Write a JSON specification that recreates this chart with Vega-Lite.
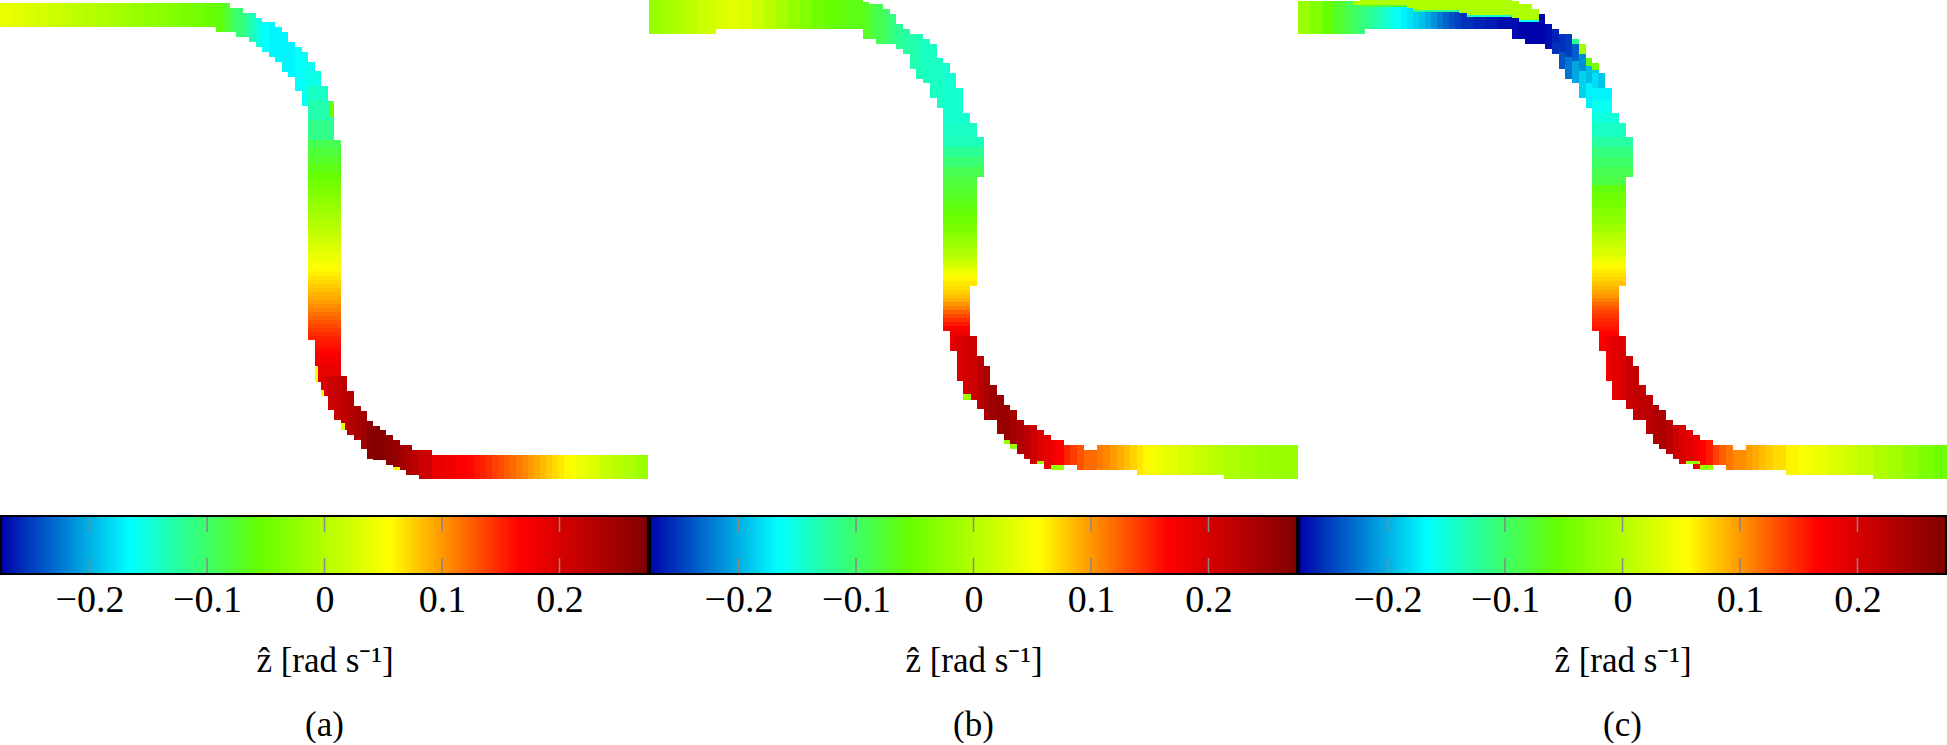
{"$schema":"https://vega.github.io/schema/vega-lite/v6.json","padding":0,"background":"white","spacing":0,"config":{"view":{"stroke":null},"concat":{"spacing":0}},
"datasets":{
"a":[
{"x0":0,"x1":12,"y0":3,"y1":27,"z":0.04},{"x0":12,"x1":24,"y0":3,"y1":27,"z":0.035},{"x0":24,"x1":36,"y0":3,"y1":27,"z":0.03},{"x0":36,"x1":48,"y0":3,"y1":27,"z":0.024},{"x0":48,"x1":60,"y0":3,"y1":27,"z":0.019},{"x0":60,"x1":72,"y0":3,"y1":27,"z":0.014},{"x0":72,"x1":84,"y0":3,"y1":27,"z":0.008},{"x0":84,"x1":96,"y0":3,"y1":27,"z":0.003},{"x0":96,"x1":108,"y0":3,"y1":27,"z":-0.003},{"x0":108,"x1":120,"y0":3,"y1":27,"z":-0.008},{"x0":120,"x1":132,"y0":3,"y1":27,"z":-0.013},{"x0":132,"x1":144,"y0":3,"y1":27,"z":-0.019},{"x0":144,"x1":156,"y0":3,"y1":27,"z":-0.024},{"x0":156,"x1":168,"y0":3,"y1":27,"z":-0.03},{"x0":168,"x1":180,"y0":3,"y1":27,"z":-0.035},{"x0":180,"x1":192,"y0":3,"y1":27,"z":-0.04},{"x0":192,"x1":204,"y0":3,"y1":27,"z":-0.046},{"x0":204,"x1":216,"y0":3,"y1":27,"z":-0.052},
{"x0":216,"x1":223,"y0":3,"y1":32,"z":-0.06},{"x0":223,"x1":230,"y0":3,"y1":32,"z":-0.075},{"x0":230,"x1":236,"y0":8,"y1":32,"z":-0.09},{"x0":236,"x1":243,"y0":8,"y1":37,"z":-0.105},{"x0":243,"x1":249,"y0":13,"y1":37,"z":-0.12},{"x0":249,"x1":256,"y0":13,"y1":42,"z":-0.135},{"x0":256,"x1":262,"y0":18,"y1":47,"z":-0.15},{"x0":262,"x1":269,"y0":22,"y1":52,"z":-0.165},{"x0":269,"x1":275,"y0":22,"y1":57,"z":-0.17},{"x0":275,"x1":282,"y0":27,"y1":62,"z":-0.17},{"x0":282,"x1":288,"y0":32,"y1":72,"z":-0.17},{"x0":288,"x1":295,"y0":42,"y1":77,"z":-0.17},{"x0":295,"x1":302,"y0":47,"y1":91,"z":-0.165},{"x0":302,"x1":308,"y0":52,"y1":106,"z":-0.16},
{"x0":308,"x1":315,"y0":62,"y1":71,"z":-0.16},{"x0":308,"x1":321,"y0":71,"y1":86,"z":-0.155},{"x0":308,"x1":328,"y0":86,"y1":101,"z":-0.14},{"x0":308,"x1":334,"y0":101,"y1":120,"z":-0.13},{"x0":308,"x1":334,"y0":120,"y1":140,"z":-0.115},
{"x0":308,"x1":341,"y0":140,"y1":148,"z":-0.09},{"x0":308,"x1":341,"y0":148,"y1":156,"z":-0.081},{"x0":308,"x1":341,"y0":156,"y1":164,"z":-0.073},{"x0":308,"x1":341,"y0":164,"y1":172,"z":-0.064},{"x0":308,"x1":341,"y0":172,"y1":180,"z":-0.055},{"x0":308,"x1":341,"y0":180,"y1":188,"z":-0.046},{"x0":308,"x1":341,"y0":188,"y1":196,"z":-0.037},{"x0":308,"x1":341,"y0":196,"y1":204,"z":-0.027},{"x0":308,"x1":341,"y0":204,"y1":212,"z":-0.018},{"x0":308,"x1":341,"y0":212,"y1":220,"z":-0.009},{"x0":308,"x1":341,"y0":220,"y1":228,"z":0},{"x0":308,"x1":341,"y0":228,"y1":236,"z":0.01},{"x0":308,"x1":341,"y0":236,"y1":244,"z":0.02},{"x0":308,"x1":341,"y0":244,"y1":252,"z":0.03},{"x0":308,"x1":341,"y0":252,"y1":260,"z":0.04},{"x0":308,"x1":341,"y0":260,"y1":264,"z":0.048},{"x0":308,"x1":341,"y0":264,"y1":268,"z":0.052},{"x0":308,"x1":341,"y0":268,"y1":272,"z":0.057},{"x0":308,"x1":341,"y0":272,"y1":276,"z":0.062},{"x0":308,"x1":341,"y0":276,"y1":280,"z":0.067},{"x0":308,"x1":341,"y0":280,"y1":284,"z":0.072},{"x0":308,"x1":341,"y0":284,"y1":288,"z":0.077},{"x0":308,"x1":341,"y0":288,"y1":292,"z":0.082},{"x0":308,"x1":341,"y0":292,"y1":296,"z":0.087},{"x0":308,"x1":341,"y0":296,"y1":300,"z":0.092},{"x0":308,"x1":341,"y0":300,"y1":304,"z":0.098},{"x0":308,"x1":341,"y0":304,"y1":308,"z":0.104},{"x0":308,"x1":341,"y0":308,"y1":312,"z":0.11},{"x0":308,"x1":341,"y0":312,"y1":316,"z":0.117},{"x0":308,"x1":341,"y0":316,"y1":320,"z":0.123},{"x0":308,"x1":341,"y0":320,"y1":324,"z":0.129},{"x0":308,"x1":341,"y0":324,"y1":328,"z":0.135},{"x0":308,"x1":341,"y0":328,"y1":332,"z":0.14},{"x0":308,"x1":341,"y0":332,"y1":336,"z":0.146},{"x0":308,"x1":341,"y0":336,"y1":340,"z":0.151},
{"x0":315,"x1":341,"y0":340,"y1":344,"z":0.155},{"x0":315,"x1":341,"y0":344,"y1":348,"z":0.159},{"x0":315,"x1":341,"y0":348,"y1":352,"z":0.163},{"x0":315,"x1":341,"y0":352,"y1":356,"z":0.167},{"x0":315,"x1":341,"y0":356,"y1":364,"z":0.175},{"x0":315,"x1":341,"y0":364,"y1":376,"z":0.185},
{"x0":315,"x1":321,"y0":376,"y1":382,"z":0.195},{"x0":321,"x1":328,"y0":376,"y1":396,"z":0.2},{"x0":328,"x1":334,"y0":376,"y1":410,"z":0.21},{"x0":334,"x1":341,"y0":376,"y1":420,"z":0.215},{"x0":341,"x1":347,"y0":376,"y1":430,"z":0.22},{"x0":347,"x1":354,"y0":391,"y1":435,"z":0.23},{"x0":354,"x1":361,"y0":406,"y1":440,"z":0.24},{"x0":361,"x1":367,"y0":411,"y1":449,"z":0.25},{"x0":367,"x1":373,"y0":421,"y1":459,"z":0.265},{"x0":373,"x1":380,"y0":426,"y1":460,"z":0.27},{"x0":380,"x1":386,"y0":430,"y1":460,"z":0.27},{"x0":386,"x1":393,"y0":435,"y1":465,"z":0.265},{"x0":393,"x1":400,"y0":440,"y1":470,"z":0.255},{"x0":400,"x1":406,"y0":445,"y1":470,"z":0.245},{"x0":406,"x1":412,"y0":445,"y1":475,"z":0.235},{"x0":412,"x1":419,"y0":450,"y1":475,"z":0.225},{"x0":419,"x1":432,"y0":450,"y1":479,"z":0.21},
{"x0":432,"x1":444,"y0":455,"y1":479,"z":0.185},{"x0":444,"x1":456,"y0":455,"y1":479,"z":0.178},{"x0":456,"x1":468,"y0":455,"y1":479,"z":0.17},{"x0":468,"x1":474,"y0":455,"y1":479,"z":0.163},{"x0":474,"x1":480,"y0":455,"y1":479,"z":0.157},{"x0":480,"x1":486,"y0":455,"y1":479,"z":0.151},{"x0":486,"x1":492,"y0":455,"y1":479,"z":0.145},{"x0":492,"x1":498,"y0":455,"y1":479,"z":0.139},{"x0":498,"x1":504,"y0":455,"y1":479,"z":0.133},{"x0":504,"x1":510,"y0":455,"y1":479,"z":0.126},{"x0":510,"x1":516,"y0":455,"y1":479,"z":0.12},{"x0":516,"x1":522,"y0":455,"y1":479,"z":0.113},{"x0":522,"x1":528,"y0":455,"y1":479,"z":0.107},{"x0":528,"x1":534,"y0":455,"y1":479,"z":0.099},{"x0":534,"x1":540,"y0":455,"y1":479,"z":0.092},{"x0":540,"x1":546,"y0":455,"y1":479,"z":0.085},{"x0":546,"x1":552,"y0":455,"y1":479,"z":0.078},{"x0":552,"x1":558,"y0":455,"y1":479,"z":0.071},{"x0":558,"x1":564,"y0":455,"y1":479,"z":0.065},{"x0":564,"x1":570,"y0":455,"y1":479,"z":0.058},{"x0":570,"x1":576,"y0":455,"y1":479,"z":0.052},{"x0":576,"x1":582,"y0":455,"y1":479,"z":0.044},{"x0":582,"x1":588,"y0":455,"y1":479,"z":0.038},{"x0":588,"x1":600,"y0":455,"y1":479,"z":0.03},{"x0":600,"x1":612,"y0":455,"y1":479,"z":0.015},{"x0":612,"x1":624,"y0":455,"y1":479,"z":0.005},{"x0":624,"x1":636,"y0":455,"y1":479,"z":-0.005},{"x0":636,"x1":648,"y0":455,"y1":479,"z":-0.017},
{"x0":330,"x1":334,"y0":102,"y1":117,"z":-0.05},{"x0":315,"x1":318,"y0":366,"y1":382,"z":0.05},{"x0":321,"x1":324,"y0":390,"y1":396,"z":0.05},{"x0":341,"x1":345,"y0":423,"y1":430,"z":0.04},{"x0":393,"x1":400,"y0":467,"y1":470,"z":0.05}
],
"b":[
{"x0":0,"x1":12,"y0":0,"y1":34,"z":-0.02},{"x0":12,"x1":24,"y0":0,"y1":34,"z":-0.012},{"x0":24,"x1":36,"y0":0,"y1":34,"z":-0.003},{"x0":36,"x1":48,"y0":0,"y1":34,"z":0.008},{"x0":48,"x1":60,"y0":0,"y1":34,"z":0.018},{"x0":60,"x1":67,"y0":0,"y1":34,"z":0.024},{"x0":67,"x1":79,"y0":0,"y1":29,"z":0.03},{"x0":79,"x1":91,"y0":0,"y1":29,"z":0.035},{"x0":91,"x1":103,"y0":0,"y1":29,"z":0.03},{"x0":103,"x1":115,"y0":0,"y1":29,"z":0.018},{"x0":115,"x1":127,"y0":0,"y1":29,"z":0.005},{"x0":127,"x1":139,"y0":0,"y1":29,"z":-0.008},{"x0":139,"x1":151,"y0":0,"y1":29,"z":-0.022},{"x0":151,"x1":163,"y0":0,"y1":29,"z":-0.035},{"x0":163,"x1":175,"y0":0,"y1":29,"z":-0.047},{"x0":175,"x1":187,"y0":0,"y1":29,"z":-0.055},{"x0":187,"x1":199,"y0":0,"y1":29,"z":-0.06},{"x0":199,"x1":214,"y0":0,"y1":29,"z":-0.065},
{"x0":214,"x1":220,"y0":2,"y1":39,"z":-0.07},{"x0":220,"x1":227,"y0":4,"y1":39,"z":-0.08},{"x0":227,"x1":234,"y0":4,"y1":44,"z":-0.09},{"x0":234,"x1":241,"y0":9,"y1":44,"z":-0.1},{"x0":241,"x1":247,"y0":14,"y1":44,"z":-0.11},{"x0":247,"x1":254,"y0":24,"y1":49,"z":-0.12},{"x0":254,"x1":261,"y0":29,"y1":54,"z":-0.125},{"x0":261,"x1":267,"y0":34,"y1":69,"z":-0.13},{"x0":267,"x1":274,"y0":34,"y1":79,"z":-0.135},{"x0":274,"x1":281,"y0":39,"y1":83,"z":-0.14},{"x0":281,"x1":288,"y0":44,"y1":98,"z":-0.14},{"x0":288,"x1":294,"y0":58,"y1":108,"z":-0.14},
{"x0":294,"x1":301,"y0":63,"y1":73,"z":-0.145},{"x0":294,"x1":307,"y0":73,"y1":88,"z":-0.145},{"x0":294,"x1":314,"y0":88,"y1":113,"z":-0.145},{"x0":294,"x1":321,"y0":113,"y1":123,"z":-0.145},{"x0":294,"x1":328,"y0":123,"y1":137,"z":-0.14},
{"x0":294,"x1":335,"y0":137,"y1":147,"z":-0.135},{"x0":294,"x1":335,"y0":147,"y1":157,"z":-0.12},{"x0":294,"x1":335,"y0":157,"y1":167,"z":-0.105},{"x0":294,"x1":335,"y0":167,"y1":177,"z":-0.09},
{"x0":294,"x1":328,"y0":177,"y1":185,"z":-0.082},{"x0":294,"x1":328,"y0":185,"y1":193,"z":-0.076},{"x0":294,"x1":328,"y0":193,"y1":201,"z":-0.07},{"x0":294,"x1":328,"y0":201,"y1":209,"z":-0.064},{"x0":294,"x1":328,"y0":209,"y1":217,"z":-0.058},{"x0":294,"x1":328,"y0":217,"y1":225,"z":-0.05},{"x0":294,"x1":328,"y0":225,"y1":233,"z":-0.04},{"x0":294,"x1":328,"y0":233,"y1":241,"z":-0.028},{"x0":294,"x1":328,"y0":241,"y1":249,"z":-0.015},{"x0":294,"x1":328,"y0":249,"y1":257,"z":-0.003},{"x0":294,"x1":328,"y0":257,"y1":261,"z":0.01},{"x0":294,"x1":328,"y0":261,"y1":265,"z":0.02},{"x0":294,"x1":328,"y0":265,"y1":269,"z":0.03},{"x0":294,"x1":328,"y0":269,"y1":273,"z":0.04},{"x0":294,"x1":328,"y0":273,"y1":277,"z":0.05},{"x0":294,"x1":328,"y0":277,"y1":281,"z":0.058},{"x0":294,"x1":328,"y0":281,"y1":286,"z":0.065},
{"x0":294,"x1":321,"y0":286,"y1":290,"z":0.07},{"x0":294,"x1":321,"y0":290,"y1":294,"z":0.076},{"x0":294,"x1":321,"y0":294,"y1":298,"z":0.082},{"x0":294,"x1":321,"y0":298,"y1":302,"z":0.089},{"x0":294,"x1":321,"y0":302,"y1":306,"z":0.1},{"x0":294,"x1":321,"y0":306,"y1":310,"z":0.11},{"x0":294,"x1":321,"y0":310,"y1":314,"z":0.124},{"x0":294,"x1":321,"y0":314,"y1":318,"z":0.136},{"x0":294,"x1":321,"y0":318,"y1":322,"z":0.146},{"x0":294,"x1":321,"y0":322,"y1":326,"z":0.156},{"x0":294,"x1":321,"y0":326,"y1":331,"z":0.17},{"x0":301,"x1":321,"y0":331,"y1":336,"z":0.18},
{"x0":301,"x1":308,"y0":336,"y1":351,"z":0.19},{"x0":308,"x1":314,"y0":336,"y1":381,"z":0.2},{"x0":314,"x1":321,"y0":336,"y1":400,"z":0.205},{"x0":321,"x1":328,"y0":336,"y1":400,"z":0.21},{"x0":328,"x1":335,"y0":356,"y1":409,"z":0.225},{"x0":335,"x1":341,"y0":366,"y1":420,"z":0.24},{"x0":341,"x1":348,"y0":385,"y1":420,"z":0.25},{"x0":348,"x1":355,"y0":395,"y1":434,"z":0.255},{"x0":355,"x1":361,"y0":405,"y1":444,"z":0.255},{"x0":361,"x1":368,"y0":410,"y1":449,"z":0.245},{"x0":368,"x1":375,"y0":420,"y1":454,"z":0.235},{"x0":375,"x1":381,"y0":425,"y1":459,"z":0.225},{"x0":381,"x1":388,"y0":425,"y1":464,"z":0.21},{"x0":388,"x1":395,"y0":430,"y1":464,"z":0.195},{"x0":395,"x1":402,"y0":435,"y1":469,"z":0.185},{"x0":402,"x1":408,"y0":440,"y1":469,"z":0.175},{"x0":408,"x1":415,"y0":440,"y1":465,"z":0.165},{"x0":415,"x1":421,"y0":445,"y1":465,"z":0.152},{"x0":421,"x1":428,"y0":445,"y1":465,"z":0.14},{"x0":428,"x1":435,"y0":445,"y1":470,"z":0.13},{"x0":435,"x1":448,"y0":450,"y1":470,"z":0.12},
{"x0":448,"x1":454,"y0":445,"y1":470,"z":0.113},{"x0":454,"x1":461,"y0":445,"y1":470,"z":0.107},{"x0":461,"x1":468,"y0":445,"y1":470,"z":0.099},{"x0":468,"x1":475,"y0":445,"y1":470,"z":0.091},{"x0":475,"x1":481,"y0":445,"y1":470,"z":0.083},{"x0":481,"x1":488,"y0":445,"y1":470,"z":0.075},{"x0":488,"x1":494,"y0":445,"y1":475,"z":0.066},{"x0":494,"x1":501,"y0":445,"y1":475,"z":0.058},{"x0":501,"x1":508,"y0":445,"y1":475,"z":0.05},{"x0":508,"x1":515,"y0":445,"y1":475,"z":0.043},{"x0":515,"x1":530,"y0":445,"y1":475,"z":0.035},{"x0":530,"x1":545,"y0":445,"y1":475,"z":0.025},{"x0":545,"x1":560,"y0":445,"y1":475,"z":0.015},{"x0":560,"x1":575,"y0":445,"y1":475,"z":0.005},{"x0":575,"x1":590,"y0":445,"y1":479,"z":-0.005},{"x0":590,"x1":605,"y0":445,"y1":479,"z":-0.01},{"x0":605,"x1":620,"y0":445,"y1":479,"z":-0.015},{"x0":620,"x1":635,"y0":445,"y1":479,"z":-0.018},{"x0":635,"x1":649,"y0":445,"y1":479,"z":-0.02},
{"x0":314,"x1":322,"y0":394,"y1":400,"z":-0.02},{"x0":355,"x1":361,"y0":440,"y1":444,"z":-0.02},{"x0":361,"x1":368,"y0":444,"y1":449,"z":-0.02},{"x0":388,"x1":395,"y0":461,"y1":464,"z":-0.02},{"x0":402,"x1":415,"y0":465,"y1":470,"z":-0.02}
],
"c":[
{"x0":0,"x1":12,"y0":1,"y1":34,"z":-0.02},{"x0":12,"x1":24,"y0":1,"y1":34,"z":-0.035},{"x0":24,"x1":36,"y0":1,"y1":34,"z":-0.055},{"x0":36,"x1":48,"y0":1,"y1":34,"z":-0.075},{"x0":48,"x1":55,"y0":1,"y1":34,"z":-0.09},{"x0":55,"x1":61,"y0":1,"y1":34,"z":-0.1},{"x0":61,"x1":67,"y0":1,"y1":34,"z":-0.108},{"x0":67,"x1":73,"y0":1,"y1":29,"z":-0.116},{"x0":73,"x1":79,"y0":1,"y1":29,"z":-0.125},{"x0":79,"x1":85,"y0":1,"y1":29,"z":-0.135},{"x0":85,"x1":91,"y0":1,"y1":29,"z":-0.145},{"x0":91,"x1":97,"y0":1,"y1":29,"z":-0.155},{"x0":97,"x1":103,"y0":1,"y1":29,"z":-0.163},{"x0":103,"x1":109,"y0":1,"y1":29,"z":-0.171},{"x0":109,"x1":115,"y0":1,"y1":29,"z":-0.178},{"x0":115,"x1":121,"y0":1,"y1":29,"z":-0.186},{"x0":121,"x1":127,"y0":1,"y1":29,"z":-0.193},{"x0":127,"x1":133,"y0":1,"y1":29,"z":-0.202},{"x0":133,"x1":139,"y0":1,"y1":29,"z":-0.213},{"x0":139,"x1":145,"y0":1,"y1":29,"z":-0.224},{"x0":145,"x1":151,"y0":1,"y1":29,"z":-0.234},{"x0":151,"x1":157,"y0":1,"y1":29,"z":-0.242},{"x0":157,"x1":163,"y0":1,"y1":29,"z":-0.248},{"x0":163,"x1":175,"y0":1,"y1":29,"z":-0.255},{"x0":175,"x1":187,"y0":1,"y1":29,"z":-0.26},{"x0":187,"x1":199,"y0":1,"y1":29,"z":-0.265},{"x0":199,"x1":214,"y0":1,"y1":29,"z":-0.27},
{"x0":214,"x1":220,"y0":1,"y1":39,"z":-0.27},{"x0":220,"x1":227,"y0":4,"y1":39,"z":-0.275},{"x0":227,"x1":234,"y0":4,"y1":44,"z":-0.275},{"x0":234,"x1":241,"y0":9,"y1":44,"z":-0.275},{"x0":241,"x1":247,"y0":14,"y1":44,"z":-0.275},{"x0":247,"x1":254,"y0":24,"y1":49,"z":-0.27},
{"x0":254,"x1":261,"y0":29,"y1":42,"z":-0.262},{"x0":254,"x1":261,"y0":42,"y1":54,"z":-0.255},{"x0":261,"x1":267,"y0":34,"y1":52,"z":-0.255},{"x0":261,"x1":267,"y0":52,"y1":69,"z":-0.24},{"x0":267,"x1":274,"y0":34,"y1":57,"z":-0.25},{"x0":267,"x1":274,"y0":57,"y1":79,"z":-0.225},{"x0":274,"x1":281,"y0":39,"y1":61,"z":-0.235},{"x0":274,"x1":281,"y0":61,"y1":83,"z":-0.205},{"x0":281,"x1":288,"y0":44,"y1":71,"z":-0.215},{"x0":281,"x1":288,"y0":71,"y1":98,"z":-0.185},{"x0":288,"x1":294,"y0":58,"y1":83,"z":-0.195},{"x0":288,"x1":294,"y0":83,"y1":108,"z":-0.172},
{"x0":294,"x1":301,"y0":63,"y1":73,"z":-0.19},{"x0":294,"x1":300,"y0":73,"y1":88,"z":-0.18},{"x0":300,"x1":307,"y0":73,"y1":88,"z":-0.19},{"x0":294,"x1":314,"y0":88,"y1":100,"z":-0.17},{"x0":294,"x1":314,"y0":100,"y1":113,"z":-0.16},{"x0":294,"x1":321,"y0":113,"y1":123,"z":-0.15},{"x0":294,"x1":328,"y0":123,"y1":137,"z":-0.14},
{"x0":294,"x1":335,"y0":137,"y1":147,"z":-0.125},{"x0":294,"x1":335,"y0":147,"y1":157,"z":-0.11},{"x0":294,"x1":335,"y0":157,"y1":167,"z":-0.1},{"x0":294,"x1":335,"y0":167,"y1":177,"z":-0.09},
{"x0":294,"x1":328,"y0":177,"y1":185,"z":-0.085},{"x0":294,"x1":328,"y0":185,"y1":193,"z":-0.06},{"x0":294,"x1":328,"y0":193,"y1":201,"z":-0.05},{"x0":294,"x1":328,"y0":201,"y1":209,"z":-0.042},{"x0":294,"x1":328,"y0":209,"y1":217,"z":-0.034},{"x0":294,"x1":328,"y0":217,"y1":225,"z":-0.024},{"x0":294,"x1":328,"y0":225,"y1":233,"z":-0.012},{"x0":294,"x1":328,"y0":233,"y1":241,"z":0.002},{"x0":294,"x1":328,"y0":241,"y1":249,"z":0.016},{"x0":294,"x1":328,"y0":249,"y1":257,"z":0.03},{"x0":294,"x1":328,"y0":257,"y1":261,"z":0.042},{"x0":294,"x1":328,"y0":261,"y1":265,"z":0.05},{"x0":294,"x1":328,"y0":265,"y1":269,"z":0.057},{"x0":294,"x1":328,"y0":269,"y1":273,"z":0.063},{"x0":294,"x1":328,"y0":273,"y1":277,"z":0.068},{"x0":294,"x1":328,"y0":277,"y1":281,"z":0.073},{"x0":294,"x1":328,"y0":281,"y1":286,"z":0.08},
{"x0":294,"x1":321,"y0":286,"y1":290,"z":0.087},{"x0":294,"x1":321,"y0":290,"y1":294,"z":0.094},{"x0":294,"x1":321,"y0":294,"y1":298,"z":0.101},{"x0":294,"x1":321,"y0":298,"y1":302,"z":0.11},{"x0":294,"x1":321,"y0":302,"y1":306,"z":0.12},{"x0":294,"x1":321,"y0":306,"y1":310,"z":0.129},{"x0":294,"x1":321,"y0":310,"y1":314,"z":0.137},{"x0":294,"x1":321,"y0":314,"y1":318,"z":0.143},{"x0":294,"x1":321,"y0":318,"y1":322,"z":0.148},{"x0":294,"x1":321,"y0":322,"y1":326,"z":0.153},{"x0":294,"x1":321,"y0":326,"y1":331,"z":0.158},{"x0":301,"x1":321,"y0":331,"y1":336,"z":0.165},
{"x0":301,"x1":308,"y0":336,"y1":351,"z":0.172},{"x0":308,"x1":314,"y0":336,"y1":381,"z":0.18},{"x0":314,"x1":321,"y0":336,"y1":400,"z":0.19},{"x0":321,"x1":328,"y0":336,"y1":400,"z":0.2},{"x0":328,"x1":335,"y0":356,"y1":409,"z":0.21},{"x0":335,"x1":341,"y0":366,"y1":420,"z":0.22},{"x0":341,"x1":348,"y0":385,"y1":420,"z":0.22},{"x0":348,"x1":355,"y0":395,"y1":434,"z":0.225},{"x0":355,"x1":361,"y0":405,"y1":444,"z":0.235},{"x0":361,"x1":368,"y0":410,"y1":449,"z":0.235},{"x0":368,"x1":375,"y0":420,"y1":454,"z":0.225},{"x0":375,"x1":381,"y0":425,"y1":459,"z":0.21},{"x0":381,"x1":388,"y0":425,"y1":464,"z":0.2},{"x0":388,"x1":395,"y0":430,"y1":464,"z":0.19},{"x0":395,"x1":402,"y0":435,"y1":469,"z":0.18},{"x0":402,"x1":408,"y0":440,"y1":469,"z":0.165},{"x0":408,"x1":415,"y0":440,"y1":465,"z":0.155},{"x0":415,"x1":421,"y0":445,"y1":465,"z":0.138},{"x0":421,"x1":428,"y0":445,"y1":465,"z":0.125},{"x0":428,"x1":435,"y0":445,"y1":470,"z":0.115},{"x0":435,"x1":448,"y0":450,"y1":470,"z":0.105},
{"x0":448,"x1":454,"y0":445,"y1":470,"z":0.098},{"x0":454,"x1":461,"y0":445,"y1":470,"z":0.092},{"x0":461,"x1":468,"y0":445,"y1":470,"z":0.084},{"x0":468,"x1":475,"y0":445,"y1":470,"z":0.077},{"x0":475,"x1":488,"y0":445,"y1":470,"z":0.07},{"x0":488,"x1":501,"y0":445,"y1":475,"z":0.06},{"x0":501,"x1":515,"y0":445,"y1":475,"z":0.05},{"x0":515,"x1":530,"y0":445,"y1":475,"z":0.04},{"x0":530,"x1":545,"y0":445,"y1":475,"z":0.03},{"x0":545,"x1":560,"y0":445,"y1":475,"z":0.02},{"x0":560,"x1":575,"y0":445,"y1":475,"z":0.01},{"x0":575,"x1":590,"y0":445,"y1":479,"z":-0.002},{"x0":590,"x1":605,"y0":445,"y1":479,"z":-0.012},{"x0":605,"x1":620,"y0":445,"y1":479,"z":-0.025},{"x0":620,"x1":635,"y0":445,"y1":479,"z":-0.038},{"x0":635,"x1":649,"y0":445,"y1":479,"z":-0.05},
{"x0":55,"x1":62,"y0":1,"y1":5,"z":-0.003},{"x0":62,"x1":109,"y0":0,"y1":5,"z":-0.003},{"x0":109,"x1":115,"y0":0,"y1":8,"z":-0.003},{"x0":115,"x1":161,"y0":0,"y1":10,"z":-0.003},{"x0":161,"x1":169,"y0":0,"y1":13,"z":-0.003},{"x0":169,"x1":214,"y0":0,"y1":15,"z":-0.003},{"x0":214,"x1":221,"y0":1,"y1":18,"z":-0.003},{"x0":221,"x1":234,"y0":4,"y1":20,"z":-0.003},{"x0":234,"x1":241,"y0":9,"y1":20,"z":-0.003},
{"x0":62,"x1":109,"y0":5,"y1":7,"z":-0.08},{"x0":115,"x1":161,"y0":10,"y1":12,"z":-0.12},{"x0":169,"x1":214,"y0":15,"y1":17,"z":-0.14},{"x0":221,"x1":241,"y0":20,"y1":22,"z":-0.16},
{"x0":274,"x1":281,"y0":39,"y1":44,"z":-0.12},{"x0":281,"x1":288,"y0":44,"y1":54,"z":-0.01},{"x0":288,"x1":294,"y0":58,"y1":66,"z":-0.06},{"x0":294,"x1":301,"y0":63,"y1":70,"z":-0.04},
{"x0":388,"x1":402,"y0":461,"y1":464,"z":-0.02},{"x0":402,"x1":415,"y0":465,"y1":470,"z":-0.02}
],
"ticks":[{"lo":-0.2,"bot":1,"top":17},{"lo":-0.2,"bot":43,"top":59},{"lo":-0.1,"bot":1,"top":17},{"lo":-0.1,"bot":43,"top":59},{"lo":0,"bot":1,"top":17},{"lo":0,"bot":43,"top":59},{"lo":0.1,"bot":1,"top":17},{"lo":0.1,"bot":43,"top":59},{"lo":0.2,"bot":1,"top":17},{"lo":0.2,"bot":43,"top":59}]
},
"hconcat":[
{"spacing":0,"vconcat":[
{"width":649,"height":515,"data":{"name":"a"},"mark":{"type":"rect"},"encoding":{"x":{"field":"x0","type":"quantitative","axis":null,"scale":{"domain":[0,649],"nice":false,"zero":false}},"x2":{"field":"x1"},"y":{"field":"y0","type":"quantitative","axis":null,"scale":{"domain":[0,515],"reverse":true,"nice":false,"zero":false}},"y2":{"field":"y1"},"color":{"field":"z","type":"quantitative","legend":null,"scale":{"domain":[-0.2762,-0.166,-0.055,0.055,0.166,0.2762],"range":["#0000aa","#00ffff","#66ff00","#ffff00","#ff0000","#7f0000"],"interpolate":"rgb"}}}},
{"width":649,"height":60,"title":{"text":"(a)","orient":"bottom","font":"Liberation Serif","fontSize":35,"fontWeight":"normal","color":"black","anchor":"middle","offset":30},
"encoding":{"x":{"field":"lo","type":"quantitative","scale":{"domain":[-0.2762,0.2762],"nice":false,"zero":false},"axis":{"values":[-0.2,-0.1,0,0.1,0.2],"labelExpr":"datum.value==0?'0':replace(format(datum.value,'.1f'),'-','−')","ticks":false,"domain":false,"grid":false,"labelFont":"Liberation Serif","labelFontSize":38,"labelColor":"black","labelPadding":6,"labelFlush":false,"title":"ẑ  [rad s⁻¹]","titleFont":"Liberation Serif","titleFontSize":35,"titleFontWeight":"normal","titleColor":"black","titlePadding":24}},"y":{"field":"bot","type":"quantitative","axis":null,"scale":{"domain":[0,60],"reverse":true,"nice":false,"zero":false}},"y2":{"field":"top"}},
"layer":[
{"data":{"values":[{"lo":-0.2762,"hi":0.2762,"bot":0,"top":60}]},"mark":{"type":"rect","fill":{"gradient":"linear","x1":0,"y1":0,"x2":1,"y2":0,"stops":[{"offset":0,"color":"#0000aa"},{"offset":0.2,"color":"#00ffff"},{"offset":0.4,"color":"#66ff00"},{"offset":0.6,"color":"#ffff00"},{"offset":0.8,"color":"#ff0000"},{"offset":1,"color":"#7f0000"}]}},"encoding":{"x2":{"field":"hi"}}},
{"data":{"name":"ticks"},"mark":{"type":"rule","color":"#888888","strokeWidth":1.5}},
{"data":{"values":[{"lo":-0.2753,"hi":0.2753,"bot":1,"top":59}]},"mark":{"type":"rect","fill":null,"stroke":"black","strokeWidth":2},"encoding":{"x2":{"field":"hi"}}}
]}
]},
{"spacing":0,"vconcat":[
{"width":649,"height":515,"data":{"name":"b"},"mark":{"type":"rect"},"encoding":{"x":{"field":"x0","type":"quantitative","axis":null,"scale":{"domain":[0,649],"nice":false,"zero":false}},"x2":{"field":"x1"},"y":{"field":"y0","type":"quantitative","axis":null,"scale":{"domain":[0,515],"reverse":true,"nice":false,"zero":false}},"y2":{"field":"y1"},"color":{"field":"z","type":"quantitative","legend":null,"scale":{"domain":[-0.2762,-0.166,-0.055,0.055,0.166,0.2762],"range":["#0000aa","#00ffff","#66ff00","#ffff00","#ff0000","#7f0000"],"interpolate":"rgb"}}}},
{"width":649,"height":60,"title":{"text":"(b)","orient":"bottom","font":"Liberation Serif","fontSize":35,"fontWeight":"normal","color":"black","anchor":"middle","offset":30},
"encoding":{"x":{"field":"lo","type":"quantitative","scale":{"domain":[-0.2762,0.2762],"nice":false,"zero":false},"axis":{"values":[-0.2,-0.1,0,0.1,0.2],"labelExpr":"datum.value==0?'0':replace(format(datum.value,'.1f'),'-','−')","ticks":false,"domain":false,"grid":false,"labelFont":"Liberation Serif","labelFontSize":38,"labelColor":"black","labelPadding":6,"labelFlush":false,"title":"ẑ  [rad s⁻¹]","titleFont":"Liberation Serif","titleFontSize":35,"titleFontWeight":"normal","titleColor":"black","titlePadding":24}},"y":{"field":"bot","type":"quantitative","axis":null,"scale":{"domain":[0,60],"reverse":true,"nice":false,"zero":false}},"y2":{"field":"top"}},
"layer":[
{"data":{"values":[{"lo":-0.2762,"hi":0.2762,"bot":0,"top":60}]},"mark":{"type":"rect","fill":{"gradient":"linear","x1":0,"y1":0,"x2":1,"y2":0,"stops":[{"offset":0,"color":"#0000aa"},{"offset":0.2,"color":"#00ffff"},{"offset":0.4,"color":"#66ff00"},{"offset":0.6,"color":"#ffff00"},{"offset":0.8,"color":"#ff0000"},{"offset":1,"color":"#7f0000"}]}},"encoding":{"x2":{"field":"hi"}}},
{"data":{"name":"ticks"},"mark":{"type":"rule","color":"#888888","strokeWidth":1.5}},
{"data":{"values":[{"lo":-0.2753,"hi":0.2753,"bot":1,"top":59}]},"mark":{"type":"rect","fill":null,"stroke":"black","strokeWidth":2},"encoding":{"x2":{"field":"hi"}}}
]}
]},
{"spacing":0,"vconcat":[
{"width":649,"height":515,"data":{"name":"c"},"mark":{"type":"rect"},"encoding":{"x":{"field":"x0","type":"quantitative","axis":null,"scale":{"domain":[0,649],"nice":false,"zero":false}},"x2":{"field":"x1"},"y":{"field":"y0","type":"quantitative","axis":null,"scale":{"domain":[0,515],"reverse":true,"nice":false,"zero":false}},"y2":{"field":"y1"},"color":{"field":"z","type":"quantitative","legend":null,"scale":{"domain":[-0.2762,-0.166,-0.055,0.055,0.166,0.2762],"range":["#0000aa","#00ffff","#66ff00","#ffff00","#ff0000","#7f0000"],"interpolate":"rgb"}}}},
{"width":649,"height":60,"title":{"text":"(c)","orient":"bottom","font":"Liberation Serif","fontSize":35,"fontWeight":"normal","color":"black","anchor":"middle","offset":30},
"encoding":{"x":{"field":"lo","type":"quantitative","scale":{"domain":[-0.2762,0.2762],"nice":false,"zero":false},"axis":{"values":[-0.2,-0.1,0,0.1,0.2],"labelExpr":"datum.value==0?'0':replace(format(datum.value,'.1f'),'-','−')","ticks":false,"domain":false,"grid":false,"labelFont":"Liberation Serif","labelFontSize":38,"labelColor":"black","labelPadding":6,"labelFlush":false,"title":"ẑ  [rad s⁻¹]","titleFont":"Liberation Serif","titleFontSize":35,"titleFontWeight":"normal","titleColor":"black","titlePadding":24}},"y":{"field":"bot","type":"quantitative","axis":null,"scale":{"domain":[0,60],"reverse":true,"nice":false,"zero":false}},"y2":{"field":"top"}},
"layer":[
{"data":{"values":[{"lo":-0.2762,"hi":0.2762,"bot":0,"top":60}]},"mark":{"type":"rect","fill":{"gradient":"linear","x1":0,"y1":0,"x2":1,"y2":0,"stops":[{"offset":0,"color":"#0000aa"},{"offset":0.2,"color":"#00ffff"},{"offset":0.4,"color":"#66ff00"},{"offset":0.6,"color":"#ffff00"},{"offset":0.8,"color":"#ff0000"},{"offset":1,"color":"#7f0000"}]}},"encoding":{"x2":{"field":"hi"}}},
{"data":{"name":"ticks"},"mark":{"type":"rule","color":"#888888","strokeWidth":1.5}},
{"data":{"values":[{"lo":-0.2753,"hi":0.2753,"bot":1,"top":59}]},"mark":{"type":"rect","fill":null,"stroke":"black","strokeWidth":2},"encoding":{"x2":{"field":"hi"}}}
]}
]}
]}
